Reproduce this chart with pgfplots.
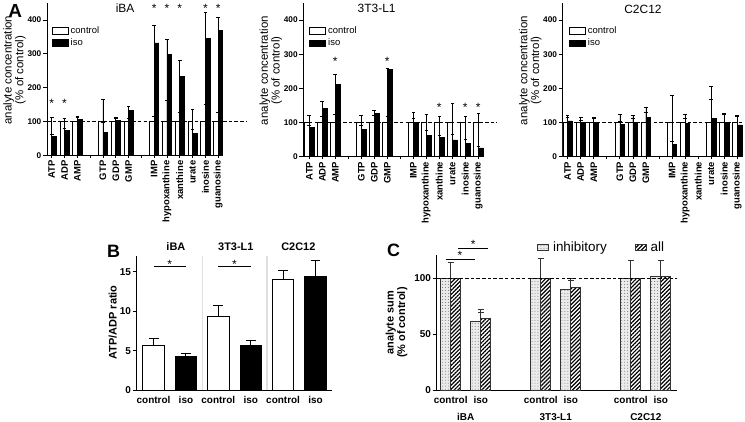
\documentclass[border=0pt]{standalone}
\usepackage{pgfplots}
\pgfplotsset{compat=1.18}
\usepackage{pgfplotstable}
\usetikzlibrary{patterns,patterns.meta}
\usepackage{fontspec}
\setmainfont{Liberation Sans}
\newfontfamily\fa{Liberation Sans}
\newfontfamily\fb{Liberation Sans}

% ---------------- Panel A data ----------------
\pgfplotstableread{
x y e
0 100 12
1 100 11
2 100 14
4 100 67
5 100 12
6 100 11
8 100 16
9 100 63
10 100 26
11 100 35
12 100 50
13 100 26
}\ibaC
\pgfplotstableread{
x y e
0 57 6
1 75 5
2 106 11
4 68 30
5 103 7
6 132 14
8 332 53
9 299 43
10 233 47
11 65 12
12 345 77
13 368 39
}\ibaI
\pgfplotstableread{
x y e
0 100 20
1 100 19
2 100 24
4 100 22
5 100 20
6 100 19
8 100 29
9 100 24
10 100 17
11 100 57
12 100 18
13 100 27
}\ttC
\pgfplotstableread{
x y e
0 85 8
1 142 21
2 212 29
4 80 12
5 127 10
6 255 3
8 100 13
9 62 16
10 56 6
11 49 17
12 39 12
13 26 5
}\ttI
\pgfplotstableread{
x y e
0 100 15
1 100 15
2 100 14
4 100 25
5 100 13
6 100 29
8 100 81
9 100 24
11 100 105
12 100 28
13 100 19
}\ccC
\pgfplotstableread{
x y e
0 105 15
1 101 7
2 100 13
4 95 8
5 101 20
6 115 30
8 37 8
9 98 15
11 111 56
12 100 25
13 93 27
}\ccI
% ---------------- Panel B data ----------------
\pgfplotstableread{
x y e
0 5.65 0.88
2 9.31 1.35
4 14.0 1.1
}\bC
\pgfplotstableread{
x y e
1 4.21 0.47
3 5.60 0.72
5 14.36 2.0
}\bI
% ---------------- Panel C data ----------------
\pgfplotstableread{
x y e
0 100 14
1 62 8
3 100 18
4 90 8
6 100 16
7 102 14
}\cInh
\pgfplotstableread{
x y e
0 100 14
1 64 8
3 100 18
4 92 8
6 100 16
7 102 14
}\cAll

\pgfplotsset{
  base/.style={scale only axis, axis lines*=left, ymin=0, clip=false,
    tick align=outside, axis line style={line width=0.9pt},
    major tick style={line width=0.8pt, black}, major tick length=4pt,
    /pgf/number format/assume math mode=true},
  pA/.style={base, ymax=450, ytick={0,100,200,300,400}, xtick={0,...,13},
    xticklabels={ATP,ADP,AMP,,GTP,GDP,GMP,,IMP,hypoxanthine,xanthine,urate,inosine,guanosine},
    x tick label style={rotate=90, anchor=east, font=\fa\bfseries\fontsize{9.5}{10}\selectfont, inner sep=1pt},
    y tick label style={font=\fa\bfseries\fontsize{8.3}{9}\selectfont, inner sep=1.5pt},
    xtick style={/pgfplots/major tick length=2.5pt},
    ylabel={analyte concentration\\(\% of control)},
    ylabel style={align=center, font=\fa\fontsize{11.5}{10.5}\selectfont},
    legend style={draw=none, fill=none, inner sep=0pt, anchor=north west,
      font=\fa\fontsize{9.5}{10}\selectfont, row sep=0pt},
    legend cell align=left},
  barA/.style={ybar, bar width=0.36, line width=0.6pt, draw=black,
    legend image code/.code={\draw[##1, line width=0.8pt] (0bp,-3.2bp) rectangle (16bp,3.2bp);},
    error bars/y dir=plus, error bars/y explicit,
    error bars/error bar style={line width=0.6pt, black},
    error bars/error mark options={rotate=90, mark size=1.8pt, line width=0.6pt, black}},
  barB/.style={ybar, bar width=0.66, bar shift=0, line width=1pt, draw=black,
    error bars/y dir=plus, error bars/y explicit,
    error bars/error bar style={line width=1pt, black},
    error bars/error mark options={rotate=90, mark size=5pt, line width=1pt, black}},
  barC/.style={ybar, bar width=0.333, line width=0.8pt, draw=black!80,
    legend image code/.code={\draw[##1] (0bp,-2.8bp) rectangle (11bp,2.8bp);},
    error bars/y dir=plus, error bars/y explicit,
    error bars/error bar style={line width=0.8pt, black!80},
    error bars/error mark options={rotate=90, mark size=3pt, line width=0.8pt, black!80}},
}
\tikzset{
  dashA/.style={dash pattern=on 3.5pt off 2.2pt, line width=1.1pt},
  ast/.style={font=\fa\fontsize{12}{13}\selectfont, inner sep=0pt, anchor=north},
  astB/.style={font=\fb\fontsize{12}{13}\selectfont, inner sep=0pt, anchor=north},
}

\begin{document}
\begin{tikzpicture}
\useasboundingbox (0,0) rectangle (745bp,422bp);

% panel letters
\node[font=\fa\bfseries\fontsize{19}{20}\selectfont, inner sep=0pt] at (15.3bp,411.2bp) {A};
\node[font=\fb\bfseries\fontsize{18}{19}\selectfont, inner sep=0pt] at (113.7bp,171bp) {B};
\node[font=\fb\bfseries\fontsize{18}{19}\selectfont, inner sep=0pt] at (393.5bp,171.5bp) {C};

% ---------- A: iBA ----------
\begin{axis}[pA, at={(47bp,266.5bp)}, anchor=south west, width=176.3bp, height=152.5bp,
  xmin=-0.37, xmax=13.4,
  ylabel style={at={(axis description cs:-0.184,0.56)}, anchor=center},
  legend style={at={(rel axis cs:0.027,0.86)}}]
\addplot[barA, fill=white, bar shift=-0.18] table[x=x,y=y,y error=e]{\ibaC};
\addplot[barA, fill=black, bar shift=0.18] table[x=x,y=y,y error=e]{\ibaI};
\legend{control,iso}
\draw[dashA] (axis cs:-0.37,100) -- (axis cs:15.2,100);
\node[font=\fa\fontsize{12}{13}\selectfont, inner sep=0pt] at (axis cs:5.73,435.7) {iBA};
\node[ast] at (axis cs:0,166) {*};
\node[ast] at (axis cs:1,166) {*};
\node[ast] at (axis cs:8,447) {*};
\node[ast] at (axis cs:9,447) {*};
\node[ast] at (axis cs:10,447) {*};
\node[ast] at (axis cs:12,447) {*};
\node[ast] at (axis cs:13,447) {*};
\end{axis}

% ---------- A: 3T3-L1 ----------
\begin{axis}[pA, at={(303.3bp,265.3bp)}, anchor=south west, width=180.2bp, height=153.7bp,
  xmin=-0.46, xmax=13.4,
  ylabel style={at={(axis description cs:-0.18,0.56)}, anchor=center},
  legend style={at={(rel axis cs:0.033,0.86)}}]
\addplot[barA, fill=white, bar shift=-0.18] table[x=x,y=y,y error=e]{\ttC};
\addplot[barA, fill=black, bar shift=0.18] table[x=x,y=y,y error=e]{\ttI};
\legend{control,iso}
\draw[dashA] (axis cs:-0.46,100) -- (axis cs:14.4,100);
\node[font=\fa\fontsize{12}{13}\selectfont, inner sep=0pt] at (axis cs:5.18,433) {3T3-L1};
\node[ast] at (axis cs:2,291) {*};
\node[ast] at (axis cs:6,291) {*};
\node[ast] at (axis cs:10,156) {*};
\node[ast] at (axis cs:12,156) {*};
\node[ast] at (axis cs:13,156) {*};
\end{axis}

% ---------- A: C2C12 ----------
\begin{axis}[pA, at={(562.7bp,265.3bp)}, anchor=south west, width=179.8bp, height=153.7bp,
  xmin=-0.38, xmax=13.4,
  ylabel style={at={(axis description cs:-0.18,0.56)}, anchor=center},
  legend style={at={(rel axis cs:0.035,0.86)}}]
\addplot[barA, fill=white, bar shift=-0.18] table[x=x,y=y,y error=e]{\ccC};
\addplot[barA, fill=black, bar shift=0.18] table[x=x,y=y,y error=e]{\ccI};
\legend{control,iso}
\draw[dashA] (axis cs:-0.38,100) -- (axis cs:13.4,100);
\node[font=\fa\fontsize{12}{13}\selectfont, inner sep=0pt] at (axis cs:5.77,432) {C2C12};
\end{axis}

% ---------- B ----------
\begin{axis}[base, at={(136.7bp,31.7bp)}, anchor=south west, width=195bp, height=134.5bp,
  xmin=-0.52, xmax=5.5, ymax=17, ytick={0,5,10,15}, xtick={0,...,5},
  xticklabels={control,iso,control,iso,control,iso},
  xtick style={draw=none},
  x tick label style={font=\fb\bfseries\fontsize{10}{11}\selectfont, inner sep=2pt},
  y tick label style={font=\fb\bfseries\fontsize{10}{11}\selectfont, inner sep=1.5pt},
  ylabel={ATP/ADP ratio},
  ylabel style={font=\fb\bfseries\fontsize{11}{12}\selectfont, at={(axis description cs:-0.123,0.504)}, anchor=center}]
\draw[black!12, line width=1.2pt] (axis cs:1.5,0) -- (axis cs:1.5,17);
\draw[black!12, line width=1.2pt] (axis cs:3.5,0) -- (axis cs:3.5,17);
\addplot[barB, fill=white] table[x=x,y=y,y error=e]{\bC};
\addplot[barB, fill=black] table[x=x,y=y,y error=e]{\bI};
\draw[line width=0.8pt] (axis cs:0,15.6) -- (axis cs:1,15.6);
\draw[line width=0.8pt] (axis cs:2,15.6) -- (axis cs:3,15.6);
\node[astB] at (axis cs:0.5,16.5) {*};
\node[astB] at (axis cs:2.5,16.5) {*};
\node[font=\fb\bfseries\fontsize{11}{12}\selectfont, inner sep=0pt] at (axis cs:0.69,18.2) {iBA};
\node[font=\fb\bfseries\fontsize{11}{12}\selectfont, inner sep=0pt] at (axis cs:2.54,18.2) {3T3-L1};
\node[font=\fb\bfseries\fontsize{11}{12}\selectfont, inner sep=0pt] at (axis cs:4.47,18.2) {C2C12};
\end{axis}

% ---------- C ----------
\begin{axis}[base, at={(436.7bp,31.7bp)}, anchor=south west, width=240bp, height=135.3bp,
  xmin=-0.467, xmax=7.53, ymax=121, ytick={0,50,100}, xtick={0,1,3,4,6,7},
  xticklabels={control,iso,control,iso,control,iso},
  xtick style={draw=none},
  x tick label style={font=\fb\bfseries\fontsize{10}{11}\selectfont, inner sep=2pt},
  y tick label style={font=\fb\bfseries\fontsize{10}{11}\selectfont, inner sep=1.5pt},
  ylabel={analyte sum\\(\% of control)},
  ylabel style={align=center, font=\fb\bfseries\fontsize{11}{11.5}\selectfont, at={(axis description cs:-0.1675,0.5)}, anchor=center},
  legend columns=2,
  legend style={draw=none, fill=none, inner sep=0pt, at={(rel axis cs:0.418,1.115)}, anchor=north west,
    font=\fb\fontsize{13.5}{14}\selectfont},
  legend cell align=left]
\addplot[barC, bar shift=-0.1667, fill=black!8, postaction={pattern=dots, pattern color=black!55}] table[x=x,y=y,y error=e]{\cInh};
\addlegendentry{\hspace*{2bp}inhibitory\hspace*{26bp}}
\addplot[barC, bar shift=0.1667, fill=white, postaction={pattern={Lines[angle=45,distance=2.8pt,line width=1.2pt]}, pattern color=black}] table[x=x,y=y,y error=e]{\cAll};
\addlegendentry{\hspace*{2bp}all}
\draw[dashA] (axis cs:-0.467,100) -- (axis cs:7.53,100);
\draw[line width=0.8pt] (axis cs:-0.17,117.3) -- (axis cs:0.81,117.3);
\draw[line width=0.8pt] (axis cs:0.25,127) -- (axis cs:1.25,127);
\node[astB] at (axis cs:0.31,124.7) {*};
\node[astB] at (axis cs:0.75,134) {*};
\node[font=\fb\bfseries\fontsize{10}{11}\selectfont] at (axis cs:0.5,0) [yshift=-26.4bp] {iBA};
\node[font=\fb\bfseries\fontsize{10}{11}\selectfont] at (axis cs:3.5,0) [yshift=-26.4bp] {3T3-L1};
\node[font=\fb\bfseries\fontsize{10}{11}\selectfont] at (axis cs:6.5,0) [yshift=-26.4bp] {C2C12};
\end{axis}
\end{tikzpicture}
\end{document}
